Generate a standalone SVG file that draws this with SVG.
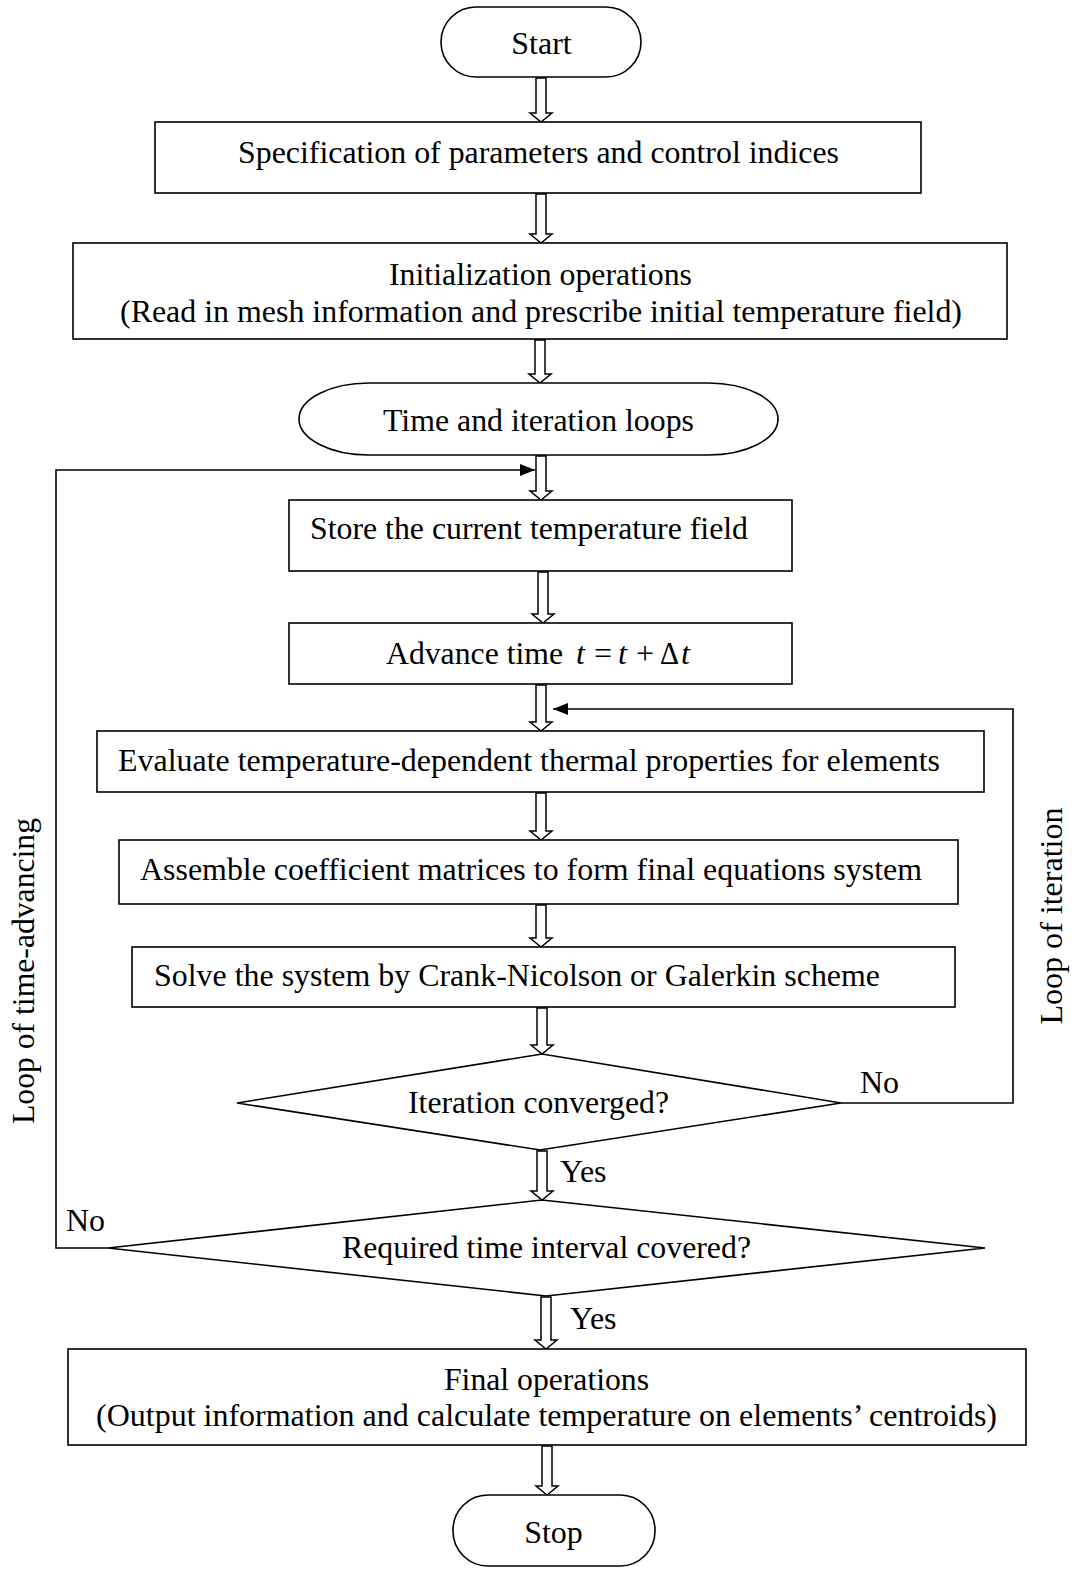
<svg xmlns="http://www.w3.org/2000/svg" width="1072" height="1571" viewBox="0 0 1072 1571">
<defs>
<style>
.n{fill:#fff;stroke:#000;stroke-width:1.6}
.t{font-family:"Liberation Serif","Times New Roman",serif;font-size:32px;fill:#000;text-anchor:middle}
.ts{font-family:"Liberation Serif","Times New Roman",serif;font-size:32px;fill:#000}
.it{font-style:italic}
.ha{fill:#fff;stroke:#000;stroke-width:1.5;stroke-linejoin:miter}
.ln{fill:none;stroke:#000;stroke-width:1.6}
</style>
<marker id="ah" viewBox="0 0 15 12" refX="15" refY="6" markerWidth="15" markerHeight="12" markerUnits="userSpaceOnUse" orient="auto">
<path d="M0,0 L15,6 L0,12 Z" fill="#000"/>
</marker>
</defs>
<rect width="1072" height="1571" fill="#fff"/>

<g id="connectors">
<path class="ha" d="M536,78 V113 H530 L541,122 L552,113 H546 V78 Z"/>
<path class="ha" d="M536,194 V234 H530 L541,243 L552,234 H546 V194 Z"/>
<path class="ha" d="M535,340 V374 H529 L540,383 L551,374 H545 V340 Z"/>
<path class="ha" d="M536,456 V491 H530 L541,500 L552,491 H546 V456 Z"/>
<path class="ha" d="M538,572 V614 H532 L543,623 L554,614 H548 V572 Z"/>
<path class="ha" d="M536,685 V722 H530 L541,731 L552,722 H546 V685 Z"/>
<path class="ha" d="M536,793 V831 H530 L541,840 L552,831 H546 V793 Z"/>
<path class="ha" d="M536,905 V938 H530 L541,947 L552,938 H546 V905 Z"/>
<path class="ha" d="M537,1008 V1045 H531 L542,1054 L553,1045 H547 V1008 Z"/>
<path class="ha" d="M537,1151 V1191 H531 L542,1200 L553,1191 H547 V1151 Z"/>
<path class="ha" d="M541,1297 V1340 H535 L546,1349 L557,1340 H551 V1297 Z"/>
<path class="ha" d="M542,1446 V1486 H536 L547,1495 L558,1486 H552 V1446 Z"/>
<path class="ln" d="M108,1248 H56 V470 H535" marker-end="url(#ah)"/>
<path class="ln" d="M841,1103 H1013 V709 H553" marker-end="url(#ah)"/>
<text class="ts" x="560" y="1182">Yes</text>
<text class="ts" x="570" y="1329">Yes</text>
<text class="ts" x="860" y="1093">No</text>
<text class="ts" x="66" y="1231">No</text>
<text class="t" transform="translate(34,971) rotate(-90)" textLength="306" lengthAdjust="spacingAndGlyphs">Loop of time-advancing</text>
<text class="t" transform="translate(1062,916) rotate(-90)" textLength="217" lengthAdjust="spacingAndGlyphs">Loop of iteration</text>
</g>

<g id="start">
<rect class="n" x="441" y="7" width="200" height="70" rx="35" ry="35"/>
<text class="t" x="541.5" y="54">Start</text>
</g>

<g id="spec">
<rect class="n" x="155" y="122" width="766" height="71"/>
<text class="t" x="538.5" y="163" textLength="601" lengthAdjust="spacingAndGlyphs">Specification of parameters and control indices</text>
</g>

<g id="init">
<rect class="n" x="73" y="243" width="934" height="96"/>
<text class="t" x="540.5" y="285" textLength="303" lengthAdjust="spacingAndGlyphs">Initialization operations</text>
<text class="t" x="541" y="322" textLength="842" lengthAdjust="spacingAndGlyphs">(Read in mesh information and prescribe initial temperature field)</text>
</g>

<g id="loops">
<rect class="n" x="299" y="383" width="479" height="72" rx="70" ry="36"/>
<text class="t" x="538.5" y="431" textLength="311" lengthAdjust="spacingAndGlyphs">Time and iteration loops</text>
</g>

<g id="store">
<rect class="n" x="289" y="500" width="503" height="71"/>
<text class="t" x="529" y="539" textLength="438" lengthAdjust="spacingAndGlyphs">Store the current temperature field</text>
</g>

<g id="advance">
<rect class="n" x="289" y="623" width="503" height="61"/>
<text class="ts" x="386" y="664" textLength="177" lengthAdjust="spacingAndGlyphs">Advance time</text>
<text class="ts it" x="576" y="664">t</text>
<text class="ts" x="594" y="664">=</text>
<text class="ts it" x="618" y="664">t</text>
<text class="ts" x="636" y="664">+</text>
<text class="ts" x="660" y="664" textLength="19" lengthAdjust="spacingAndGlyphs">Δ</text>
<text class="ts it" x="681" y="664">t</text>
</g>

<g id="evaluate">
<rect class="n" x="97" y="731" width="887" height="61"/>
<text class="t" x="529" y="771" textLength="822" lengthAdjust="spacingAndGlyphs">Evaluate temperature-dependent thermal properties for elements</text>
</g>

<g id="assemble">
<rect class="n" x="119" y="840" width="839" height="64"/>
<text class="t" x="531" y="880" textLength="782" lengthAdjust="spacingAndGlyphs">Assemble coefficient matrices to form final equations system</text>
</g>

<g id="solve">
<rect class="n" x="132" y="947" width="823" height="60"/>
<text class="t" x="517" y="986" textLength="726" lengthAdjust="spacingAndGlyphs">Solve the system by Crank-Nicolson or Galerkin scheme</text>
</g>

<g id="converged">
<polygon class="n" points="542,1054 841,1103 540,1150 237,1103"/>
<text class="t" x="538.5" y="1113" textLength="261" lengthAdjust="spacingAndGlyphs">Iteration converged?</text>
</g>

<g id="covered">
<polygon class="n" points="542,1200 985,1248 546,1296 108,1248"/>
<text class="t" x="546.5" y="1258" textLength="409" lengthAdjust="spacingAndGlyphs">Required time interval covered?</text>
</g>

<g id="final">
<rect class="n" x="68" y="1349" width="958" height="96"/>
<text class="t" x="546.5" y="1390" textLength="205" lengthAdjust="spacingAndGlyphs">Final operations</text>
<text class="t" x="546.5" y="1426" textLength="901" lengthAdjust="spacingAndGlyphs">(Output information and calculate temperature on elements’ centroids)</text>
</g>

<g id="stop">
<rect class="n" x="453" y="1495" width="202" height="71" rx="35" ry="35"/>
<text class="t" x="553.5" y="1543">Stop</text>
</g>
</svg>
